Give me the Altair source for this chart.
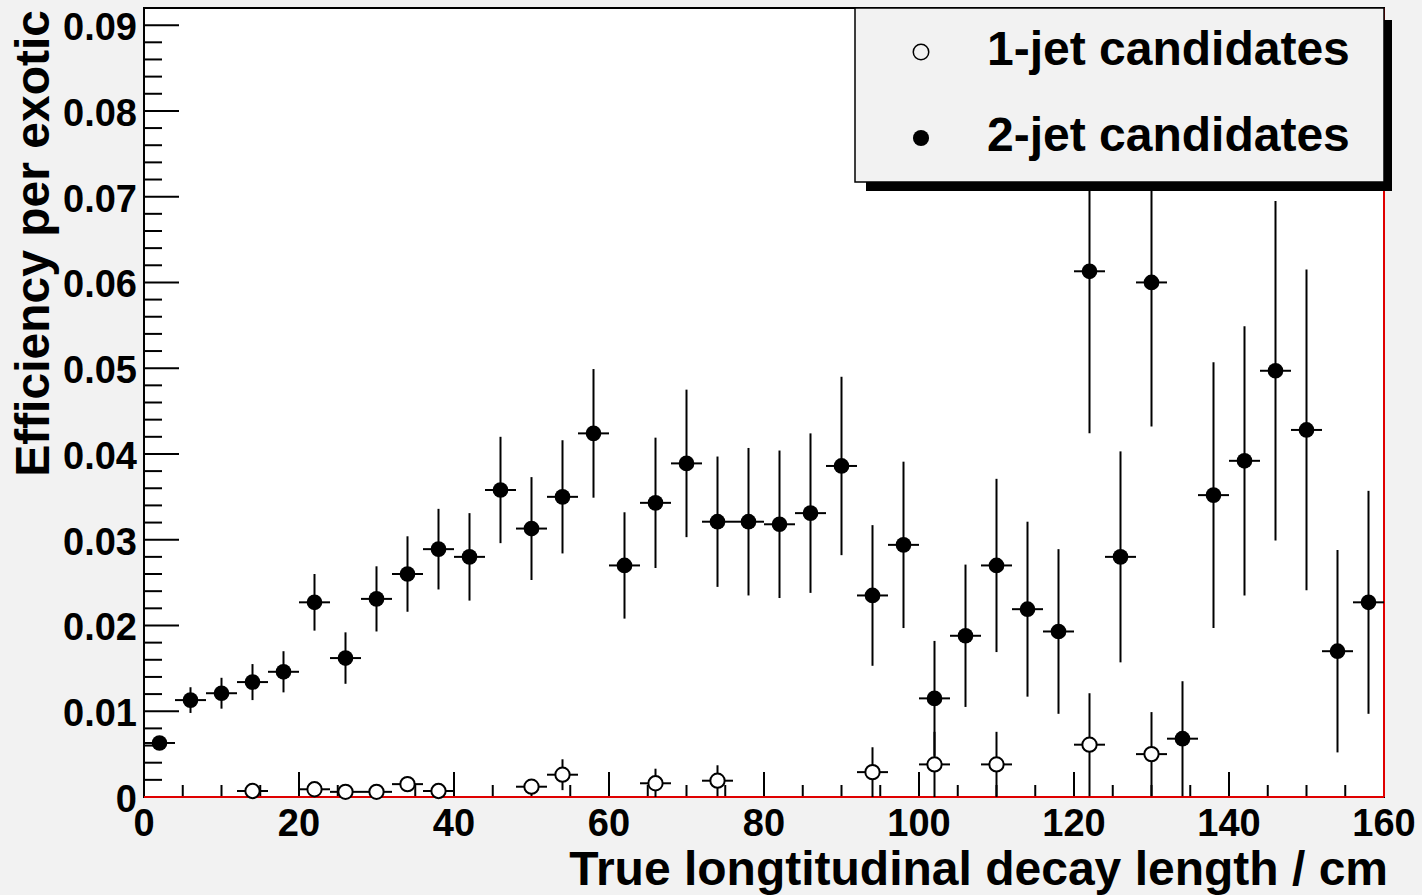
import altair as alt
import pandas as pd

# ---------------- data ----------------
bins_2jet = [2, 6, 10, 14, 18, 22, 26, 30, 34, 38, 42, 46, 50, 54, 58, 62, 66, 70, 74, 78,
             82, 86, 90, 94, 98, 102, 106, 110, 114, 118, 122, 126, 130, 134, 138, 142, 146, 150, 154, 158]
eff_2jet = [0.0063, 0.0113, 0.0121, 0.0134, 0.0146, 0.0227, 0.0162, 0.0231, 0.0260, 0.0289,
            0.0280, 0.0358, 0.0313, 0.0350, 0.0424, 0.0270, 0.0343, 0.0389, 0.0321, 0.0321,
            0.0318, 0.0331, 0.0386, 0.0235, 0.0294, 0.0115, 0.0188, 0.0270, 0.0219, 0.0193,
            0.0613, 0.0280, 0.0600, 0.0068, 0.0352, 0.0392, 0.0497, 0.0428, 0.0170, 0.0227]
err_2jet = [0.0008, 0.0015, 0.0018, 0.0021, 0.0024, 0.0033, 0.0030, 0.0038, 0.0044, 0.0047,
            0.0051, 0.0062, 0.0060, 0.0066, 0.0075, 0.0062, 0.0076, 0.0086, 0.0076, 0.0086,
            0.0086, 0.0093, 0.0104, 0.0082, 0.0097, 0.0067, 0.0083, 0.0101, 0.0102, 0.0096,
            0.0189, 0.0123, 0.0168, 0.0067, 0.0155, 0.0157, 0.0198, 0.0187, 0.0118, 0.0130]

bins_1jet = [14, 22, 26, 30, 34, 38, 50, 54, 66, 74, 94, 102, 110, 122, 130]
eff_1jet = [0.0007, 0.0009, 0.0006, 0.0006, 0.0015, 0.0007, 0.0012, 0.0026, 0.0016, 0.0019,
            0.0029, 0.0038, 0.0038, 0.0061, 0.0050]
err_1jet = [0.0006, 0.0008, 0.0006, 0.0008, 0.0009, 0.0007, 0.0008, 0.0018, 0.0017, 0.0018,
            0.0029, 0.0038, 0.0038, 0.0060, 0.0049]

bin_half_width = 2
series_names = ["1-jet candidates", "2-jet candidates"]
axis_titles = ["True longtitudinal decay length / cm", "Efficiency per exotic"]

x_major_ticks = [0, 20, 40, 60, 80, 100, 120, 140, 160]
x_minor_ticks = [v for v in range(5, 160, 5) if v % 20 != 0]
y_major_ticks = [0, 0.01, 0.02, 0.03, 0.04, 0.05, 0.06, 0.07, 0.08, 0.09]
y_minor_ticks = [round(i * 0.002, 3) for i in range(1, 47) if i % 5 != 0]

x_domain = [0, 160]
y_domain = [0, 0.092]

# ---------------- tables ----------------
def make_df(bins, eff, err):
    d = pd.DataFrame({"x": bins, "y": eff, "err": err})
    d["xlo"] = d["x"] - bin_half_width
    d["xhi"] = d["x"] + bin_half_width
    d["lo"] = (d["y"] - d["err"]).clip(lower=0)
    d["hi"] = d["y"] + d["err"]
    return d

df2 = make_df(bins_2jet, eff_2jet, err_2jet)
df1 = make_df(bins_1jet, eff_1jet, err_1jet)
legend_df = pd.DataFrame({"name": series_names, "row": [0, 1]})
title_df = pd.DataFrame({"name": axis_titles, "row": [0, 1]})
xmaj = pd.DataFrame({"v": x_major_ticks})
xmin = pd.DataFrame({"v": x_minor_ticks})
ymaj = pd.DataFrame({"v": y_major_ticks})
ymin = pd.DataFrame({"v": y_minor_ticks})
edge_df = pd.DataFrame({"y0": [0], "x1": [x_domain[1]]})

W, H = 1240, 789
FONT = "Liberation Sans"
TICK_FS = 38
TITLE_FS = 48
xs = alt.Scale(domain=x_domain, nice=False, zero=False)
ys = alt.Scale(domain=y_domain, nice=False, zero=False)

# ticks (inside the frame, ROOT style)
xmaj_r = alt.Chart(xmaj).mark_rule(color="black", strokeWidth=2).encode(
    x=alt.X("v:Q", scale=xs, axis=None), y=alt.value(H), y2=alt.value(H - 25))
xmin_r = alt.Chart(xmin).mark_rule(color="black", strokeWidth=2).encode(
    x=alt.X("v:Q", scale=xs, axis=None), y=alt.value(H), y2=alt.value(H - 12))
ymaj_r = alt.Chart(ymaj).mark_rule(color="black", strokeWidth=2).encode(
    y=alt.Y("v:Q", scale=ys, axis=None), x=alt.value(0), x2=alt.value(35))
ymin_r = alt.Chart(ymin).mark_rule(color="black", strokeWidth=2).encode(
    y=alt.Y("v:Q", scale=ys, axis=None), x=alt.value(0), x2=alt.value(18))

# tick labels placed through the same scales
xlab = alt.Chart(xmaj).mark_text(
    font=FONT, fontSize=TICK_FS, fontWeight="bold", color="black", align="center",
    baseline="alphabetic").encode(
    x=alt.X("v:Q", scale=xs, axis=None), y=alt.value(H + 39), text=alt.Text("v:Q", format="d"))
ylab = alt.Chart(ymaj).transform_calculate(
    lab="datum.v == 0 ? '0' : format(datum.v, '.2f')").mark_text(
    font=FONT, fontSize=TICK_FS, fontWeight="bold", color="black", align="right",
    baseline="alphabetic", dy=15).encode(
    y=alt.Y("v:Q", scale=ys, axis=None), x=alt.value(-7), text="lab:N")

# axis titles
xtitle = alt.Chart(title_df).transform_filter("datum.row == 0").mark_text(
    font=FONT, fontSize=TITLE_FS, fontWeight="bold", color="black", align="right",
    baseline="alphabetic").encode(x=alt.value(1244), y=alt.value(877), text="name:N")
ytitle = alt.Chart(title_df).transform_filter("datum.row == 1").mark_text(
    font=FONT, fontSize=TITLE_FS, fontWeight="bold", color="black", align="right",
    baseline="alphabetic", angle=270).encode(x=alt.value(-95), y=alt.value(2), text="name:N")

# red histogram edges
red_bottom = alt.Chart(edge_df).mark_rule(color="#e00000", strokeWidth=2).encode(
    y=alt.Y("y0:Q", scale=ys, axis=None), x=alt.value(0), x2=alt.value(W))
red_right = alt.Chart(edge_df).mark_rule(color="#e00000", strokeWidth=2).encode(
    x=alt.X("x1:Q", scale=xs, axis=None), y=alt.value(0), y2=alt.value(H))

def error_layers(d):
    v = alt.Chart(d).mark_rule(color="black", strokeWidth=2, clip=True).encode(
        x=alt.X("x:Q", scale=xs, axis=None),
        y=alt.Y("lo:Q", scale=ys, axis=None), y2="hi:Q")
    h = alt.Chart(d).mark_rule(color="black", strokeWidth=2, clip=True).encode(
        x=alt.X("xlo:Q", scale=xs, axis=None), x2="xhi:Q",
        y=alt.Y("y:Q", scale=ys, axis=None))
    return [v, h]

filled_pts = alt.Chart(df2).mark_circle(color="black", size=246, opacity=1).encode(
    x=alt.X("x:Q", scale=xs, axis=None), y=alt.Y("y:Q", scale=ys, axis=None))
open_pts = alt.Chart(df1).mark_circle(color="white", stroke="black", strokeWidth=2,
                                      size=205, opacity=1).encode(
    x=alt.X("x:Q", scale=xs, axis=None), y=alt.Y("y:Q", scale=ys, axis=None))

# legend box
leg_base = alt.Chart(legend_df)
shadow = leg_base.transform_filter("datum.row == 0").mark_rect(color="black").encode(
    x=alt.value(722), x2=alt.value(1248), y=alt.value(12), y2=alt.value(183))
box = leg_base.transform_filter("datum.row == 0").mark_rect(
    fill="#f2f2f2", stroke="black", strokeWidth=1.5).encode(
    x=alt.value(711), x2=alt.value(1240), y=alt.value(0), y2=alt.value(174))
leg_open = leg_base.transform_filter("datum.row == 0").mark_circle(
    color="#f2f2f2", stroke="black", strokeWidth=1.5, size=240, opacity=1).encode(
    x=alt.value(777), y=alt.value(44))
leg_fill = leg_base.transform_filter("datum.row == 1").mark_circle(
    color="black", size=260, opacity=1).encode(x=alt.value(777), y=alt.value(130))
leg_t1 = leg_base.transform_filter("datum.row == 0").mark_text(
    font=FONT, fontSize=TITLE_FS, fontWeight="bold", color="black", align="left",
    baseline="alphabetic").encode(x=alt.value(843), y=alt.value(57), text="name:N")
leg_t2 = leg_base.transform_filter("datum.row == 1").mark_text(
    font=FONT, fontSize=TITLE_FS, fontWeight="bold", color="black", align="left",
    baseline="alphabetic").encode(x=alt.value(843), y=alt.value(143), text="name:N")

layers = [xmaj_r, xmin_r, ymaj_r, ymin_r, red_bottom, red_right]
layers += error_layers(df2)
layers += [filled_pts]
layers += error_layers(df1)
layers += [open_pts]
layers += [xlab, ylab, xtitle, ytitle]
layers += [shadow, box, leg_open, leg_fill, leg_t1, leg_t2]

chart = alt.layer(*layers).properties(
    width=W, height=H,
    background="#f2f2f2",
    padding={"left": 144, "top": 8, "right": 38, "bottom": 98},
    autosize=alt.AutoSizeParams(type="none"),
).configure_view(fill="white", stroke="black", strokeWidth=2)

chart.save("out.html", embed_options={"renderer": "svg", "actions": False})
